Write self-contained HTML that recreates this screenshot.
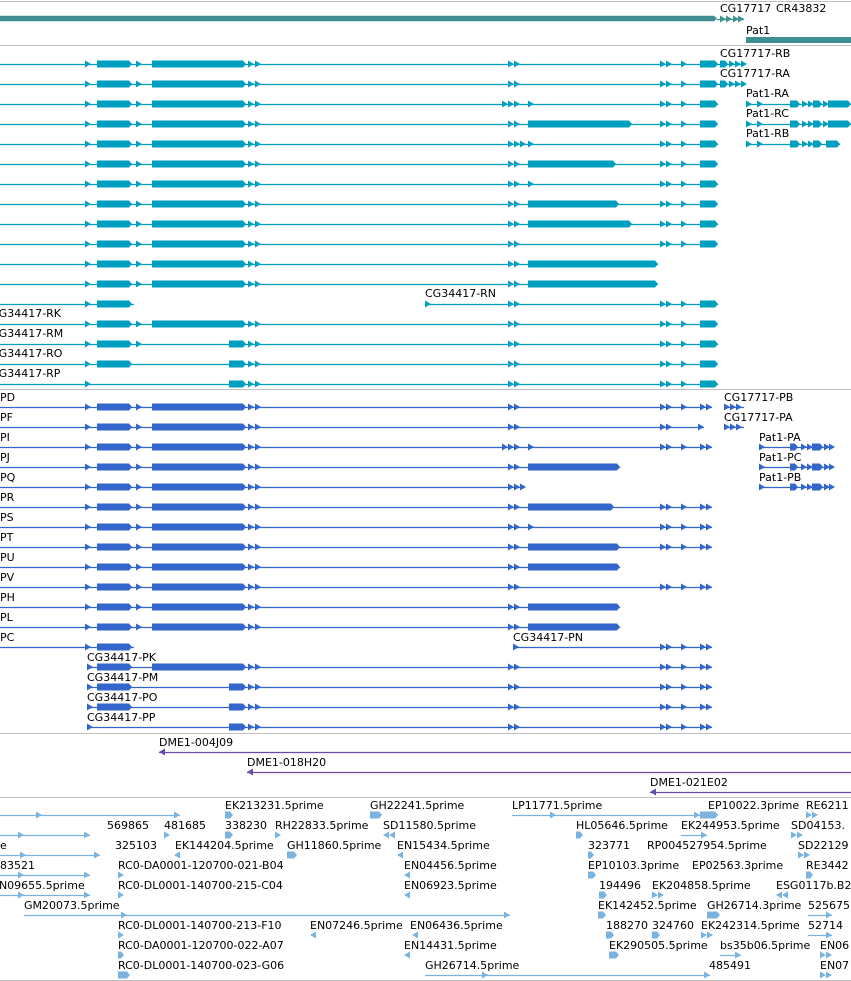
<!DOCTYPE html>
<html><head><meta charset="utf-8"><style>
html,body{margin:0;padding:0;background:#fff;width:851px;height:981px;overflow:hidden}
svg{display:block}
text{font-family:"DejaVu Sans","Liberation Sans",sans-serif;font-size:11px;fill:#000}
</style></head><body>
<svg id="c" width="851" height="981" viewBox="0 0 851 981" xmlns="http://www.w3.org/2000/svg"></svg>
<script>
const NS='http://www.w3.org/2000/svg';
const svg=document.getElementById('c');
const COL={teal:'#3f8f91',cyan:'#009fbf',blue:'#3366cc',purple:'#6a4aa8',light:'#7ab3e0'};
const separators=[1,45,389,733,797,980];
const L=[['a',85],['b',97,132],['a',136],['b',152,246],['a',248],['a',255]];
const Lk=[['a',85],['b',97,132]];
const cyanRows=[
 [64,0,718,L.concat([['d',508],['d',660],['a',681],['b',700,718]])],
 [84,0,718,L.concat([['d',508],['d',660],['a',681],['b',700,718]])],
 [104,0,718,L.concat([['a',502],['d',508],['a',528],['d',660],['a',681],['b',700,718]])],
 [124,0,718,L.concat([['d',508],['b',528,632],['d',660],['a',681],['b',700,718]])],
 [144,0,718,L.concat([['t',508],['a',528],['d',660],['a',681],['b',700,718]])],
 [164,0,718,L.concat([['d',508],['b',528,616],['d',660],['a',681],['b',700,718]])],
 [184,0,718,L.concat([['d',508],['a',528],['d',660],['a',681],['b',700,718]])],
 [204,0,718,L.concat([['d',508],['b',528,619],['d',660],['a',681],['b',700,718]])],
 [224,0,718,L.concat([['d',508],['b',528,632],['d',660],['a',681],['b',700,718]])],
 [244,0,718,L.concat([['d',508],['d',660],['a',681],['b',700,718]])],
 [264,0,658,L.concat([['d',508],['b',528,658]])],
 [284,0,658,L.concat([['d',508],['b',528,658]])],
 [304,0,134,Lk],
 [304,425,718,[['a',425],['d',508],['d',660],['a',681],['b',700,718]]],
 [324,0,718,L.concat([['d',508],['d',660],['a',681],['b',700,718]])],
 [344,0,718,[['a',85],['b',97,132],['a',136],['b',229,246],['a',248],['a',255],['d',508],['d',660],['a',681],['b',700,718]]],
 [364,0,718,[['a',85],['b',97,132],['b',229,246],['a',248],['a',255],['d',508],['d',660],['a',681],['b',700,718]]],
 [384,0,718,[['a',85],['b',229,246],['a',248],['a',255],['d',508],['d',660],['a',681],['b',700,718]]],
 [64,718,744,[['b',720,728],['a',729],['d',735]]],
 [84,718,744,[['b',720,728],['a',729],['d',735]]],
 [104,746,851,[['a',746],['a',757],['b',790,800],['a',802],['a',808],['b',813,822],['a',823],['b',828,851]]],
 [124,746,851,[['a',746],['a',757],['b',790,800],['a',802],['a',808],['b',813,822],['a',823],['b',828,851]]],
 [144,746,840,[['a',746],['a',757],['b',790,800],['a',802],['a',808],['b',813,822],['b',826,840]]]
];
const R=[['d',508],['d',660],['a',681],['d',700]];
const blueRows=[
 [407,0,712,L.concat(R)],
 [427,0,704,L.concat([['d',508],['d',660],['a',698]])],
 [447,0,712,L.concat([['a',502],['d',508],['a',528],['d',660],['a',681],['d',700]])],
 [467,0,620,L.concat([['d',508],['b',528,620]])],
 [487,0,520,L.concat([['t',508]])],
 [507,0,712,L.concat([['d',508],['b',528,614],['d',660],['a',681],['d',700]])],
 [527,0,712,L.concat([['d',508],['a',528],['d',660],['a',681],['d',700]])],
 [547,0,712,L.concat([['d',508],['b',528,620],['d',660],['a',681],['d',700]])],
 [567,0,620,L.concat([['d',508],['b',528,620]])],
 [587,0,712,L.concat(R)],
 [607,0,620,L.concat([['d',508],['b',528,620]])],
 [627,0,620,L.concat([['d',508],['b',528,620]])],
 [647,0,134,Lk],
 [647,513,712,[['a',513],['d',660],['a',681],['d',700]]],
 [667,87,712,[['a',87],['b',97,132],['b',152,246],['a',248],['a',255]].concat(R)],
 [687,87,712,[['a',87],['b',97,132],['b',229,246],['a',248],['a',255]].concat(R)],
 [707,87,712,[['a',87],['b',97,132],['b',229,246],['a',248],['a',255]].concat(R)],
 [727,87,712,[['a',87],['b',229,246],['a',248],['a',255]].concat(R)],
 [407,724,744,[['t',724]]],
 [427,724,744,[['t',724]]],
 [447,759,832,[['a',759],['b',790,798],['a',801],['a',807],['b',812,823],['a',824],['a',829]]],
 [467,759,832,[['a',759],['b',790,798],['a',801],['a',807],['b',812,823],['a',824],['a',829]]],
 [487,759,832,[['a',759],['b',790,798],['a',801],['a',807],['b',812,823],['a',824],['a',829]]]
];
const geneLabels=[
 ['CG17717',720,8],['CR43832',776,8],['Pat1',746,30],
 ['CG17717-RB',720,53],['CG17717-RA',720,73],['Pat1-RA',746,93],['Pat1-RC',746,113],['Pat1-RB',746,133],
 ['CG34417-RN',425,293],['CG34417-RK',-9,313],['CG34417-RM',-9,333],['CG34417-RO',-9,353],['CG34417-RP',-9,373],
 ['PD',0,397],['PF',0,417],['PI',0,437],['PJ',0,457],['PQ',0,477],['PR',0,497],['PS',0,517],['PT',0,537],['PU',0,557],['PV',0,577],['PH',0,597],['PL',0,617],['PC',0,637],
 ['CG17717-PB',724,397],['CG17717-PA',724,417],['Pat1-PA',759,437],['Pat1-PC',759,457],['Pat1-PB',759,477],
 ['CG34417-PN',513,637],['CG34417-PK',87,657],['CG34417-PM',87,677],['CG34417-PO',87,697],['CG34417-PP',87,717],
 ['DME1-004J09',159,742],['DME1-018H20',247,762],['DME1-021E02',650,782]
];
const cloneRows=[[752,159],[772,247],[792,650]];
// ESTs: label, labelX, row, type, x0, x1
const ests=[
 ['',0,0,'r',0,180],['EK213231.5prime',225,0,'b',225,233],['GH22241.5prime',370,0,'b',370,382],['LP11771.5prime',512,0,'r',512,700],['EP10022.3prime',708,0,'b',700,718],['RE6211',806,0,'d',806,818],
 ['',0,1,'r',0,90],['569865',107,1,'n',0,0],['481685',164,1,'a',164,169],['338230',225,1,'b',225,233],['RH22833.5prime',275,1,'a',275,280],['SD11580.5prime',383,1,'l',383,395],['HL05646.5prime',576,1,'b',576,583],['EK244953.5prime',681,1,'r',681,707],['SD04153.',791,1,'d',791,805],
 ['e',0,2,'r',0,100],['325103',115,2,'n',0,0],['EK144204.5prime',175,2,'l',174,180],['GH11860.5prime',287,2,'b',287,297],['EN15434.5prime',397,2,'l',397,405],['323771',588,2,'b',588,594],['RP004527954.5prime',647,2,'n',0,0],['SD22129',798,2,'d',798,812],
 ['383521',-7,3,'r',0,90],['RC0-DA0001-120700-021-B04',118,3,'a',118,123],['EN04456.5prime',404,3,'l',404,409],['EP10103.3prime',588,3,'b',588,596],['EP02563.3prime',692,3,'n',0,0],['RE3442',806,3,'b',806,813],
 ['EN09655.5prime',-8,4,'r',0,90],['RC0-DL0001-140700-215-C04',118,4,'a',118,123],['EN06923.5prime',404,4,'l',404,409],['194496',599,4,'b',599,607],['EK204858.5prime',652,4,'d',652,666],['ESG0117b.B2',776,4,'l',776,786],
 ['GM20073.5prime',24,5,'r',24,510],['EK142452.5prime',598,5,'b',598,606],['GH26714.3prime',707,5,'b',707,720],['525675',808,5,'r',808,832],
 ['RC0-DL0001-140700-213-F10',118,6,'a',118,123],['EN07246.5prime',310,6,'l',310,317],['EN06436.5prime',410,6,'l',412,417],['188270',606,6,'b',606,614],['324760',652,6,'b',652,660],['EK242314.5prime',701,6,'d',701,710],['52714',808,6,'r',808,832],
 ['RC0-DA0001-120700-022-A07',118,7,'b',118,124],['EN14431.5prime',404,7,'l',404,409],['EK290505.5prime',609,7,'b',609,619],['bs35b06.5prime',720,7,'r',720,741],['EN06',820,7,'d',820,831],
 ['RC0-DL0001-140700-023-G06',118,8,'b',118,130],['GH26714.5prime',425,8,'r',425,710],['485491',709,8,'n',0,0],['EN07',820,8,'d',820,830]
];
function el(tag,attrs,parent){const e=document.createElementNS(NS,tag);for(const k in attrs)e.setAttribute(k,attrs[k]);(parent||svg).appendChild(e);return e;}
function arrow(g,x,y,c,left){
 const p=left?`${x+6},${y-3.5} ${x},${y} ${x+6},${y+3.5}`:`${x},${y-3.5} ${x+6},${y} ${x},${y+3.5}`;
 const e=el('polygon',{points:p,fill:c},g);
 
 
}
function block(g,x0,x1,y,c,h){
 h=h||3.5;
 const e=el('polygon',{points:`${x0},${y-h} ${x1-3},${y-h} ${x1},${y} ${x1-3},${y+h} ${x0},${y+h}`,fill:c},g);
 
 
}
function drawRow(r,c){
 const [y,x0,x1,parts]=r;
 const g=el('g',{});
 
 
 el('line',{x1:x0,x2:x1,y1:y+0.5,y2:y+0.5,stroke:c,'stroke-width':1.2},g);
 for(const p of parts){
  if(p[0]==='a')arrow(g,p[1],y,c);
  else if(p[0]==='d'){arrow(g,p[1],y,c);arrow(g,p[1]+6,y,c);}
  else if(p[0]==='t'){arrow(g,p[1],y,c);arrow(g,p[1]+6,y,c);arrow(g,p[1]+12,y,c);}
  else if(p[0]==='b')block(g,p[1],p[2],y,c);
 }
}
for(const s of separators){const e=el('line',{x1:0,x2:851,y1:s+0.5,y2:s+0.5,stroke:'#c0c0c0','stroke-width':1});
 
 }
// top gene track
block(el('g',{}),0,717,18.5,COL.teal,2.8);
drawRow([19,717,744,[['d',720],['a',733],['a',738]]],COL.teal);
{const e=el('rect',{x:746,y:37,width:105,height:6,fill:COL.teal});
 
 }
for(const r of cyanRows)drawRow(r,COL.cyan);
for(const r of blueRows)drawRow(r,COL.blue);
for(const [y,x] of cloneRows){
 const g=el('g',{});
 
 
 el('line',{x1:x,x2:851,y1:y+0.5,y2:y+0.5,stroke:COL.purple,'stroke-width':1.2},g);
 arrow(g,x,y,COL.purple,true);
}
for(const [t,x,cy] of geneLabels){
 const e=el('text',{x:x,y:cy+4});e.textContent=t;
 
 
}
for(const [t,lx,row,type,x0,x1] of ests){
 const y=815+20*row;
 if(t){const e=el('text',{x:lx,y:y-6});e.textContent=t;
  
  }
 const g=el('g',{});
 
 
 const c=COL.light;
 if(type==='r'){el('line',{x1:x0,x2:x1,y1:y+0.5,y2:y+0.5,stroke:c,'stroke-width':1.2},g);
  arrow(g,x1-6,y,c);if(x1-x0>60)arrow(g,x0+Math.round((x1-x0)*0.2),y,c);}
 else if(type==='b')block(g,x0,x1,y,c);
 else if(type==='a')arrow(g,x0,y,c);
 else if(type==='d'){for(let x=x0;x<x1-2;x+=6)arrow(g,x,y,c);}
 else if(type==='l'){for(let x=x0;x<x1-2;x+=6)arrow(g,x,y,c,true);}
}
</script>
</body></html>
